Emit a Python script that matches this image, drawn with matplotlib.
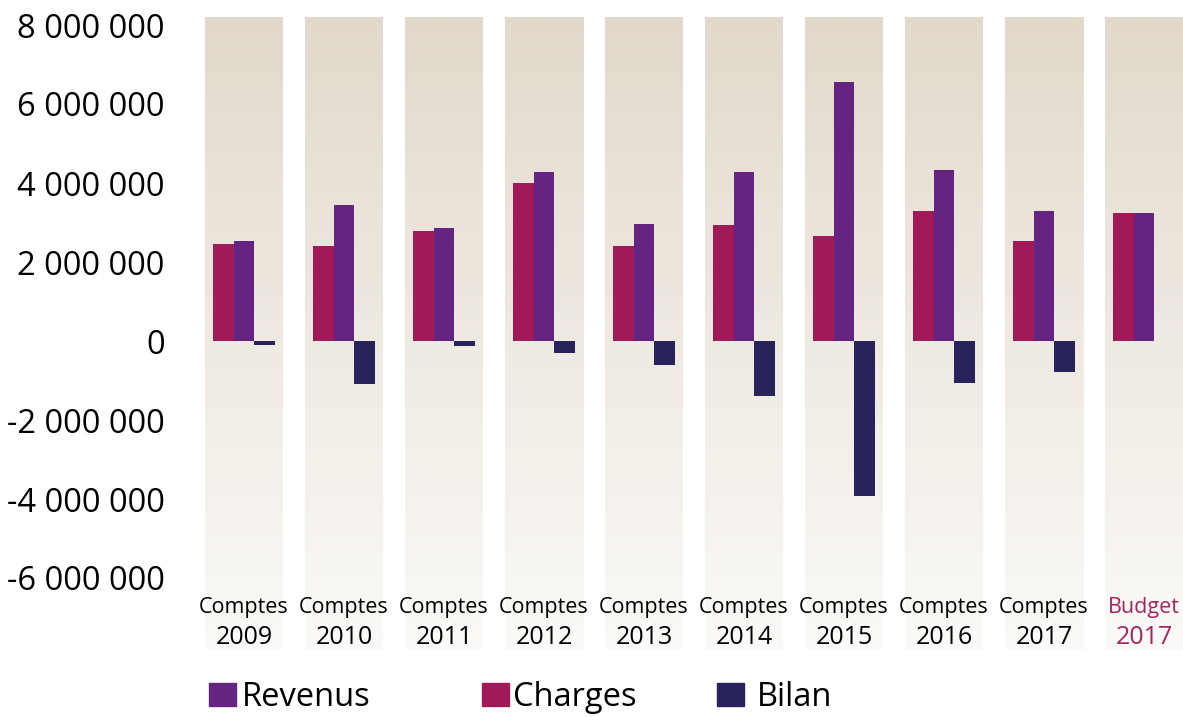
import numpy as np
import matplotlib.pyplot as plt
from matplotlib.colors import LinearSegmentedColormap
from matplotlib.patches import Rectangle
from matplotlib.ticker import FuncFormatter

plt.rcParams['font.family'] = ['Open Sans', 'DejaVu Sans']

kinds = ["Comptes"] * 9 + ["Budget"]
years = ["2009", "2010", "2011", "2012", "2013", "2014", "2015", "2016", "2017", "2017"]
charges = [2460000, 2410000, 2780000, 4000000, 2410000, 2940000, 2660000, 3290000, 2530000, 3240000]
revenus = [2530000, 3440000, 2860000, 4280000, 2960000, 4280000, 6560000, 4330000, 3290000, 3240000]
bilan = [-100000, -1090000, -130000, -300000, -610000, -1390000, -3920000, -1060000, -780000, np.nan]

c_rev = '#652382'
c_cha = '#A01A5A'
c_bil = '#28235A'

W, H = 1183, 717
fig = plt.figure(figsize=(W / 100, H / 100), dpi=100)
ax = fig.add_axes([205 / W, (H - 650) / H, (1183 - 205) / W, (650 - 17) / H])

# pixel geometry of the value axis
zero_px, ppm = 341, 39.5
ymax = (zero_px - 17) / ppm * 1e6
ymin = -(650 - zero_px) / ppm * 1e6

# gradient background columns
grad = np.linspace(0, 1, 256).reshape(-1, 1)
cmap = LinearSegmentedColormap.from_list('bg', ['#E2D9CB', '#FBFAF8'])
x = np.arange(len(years))
for i in x:
    ax.imshow(grad, cmap=cmap, extent=[i - 0.39, i + 0.39, ymin, ymax],
              aspect='auto', origin='upper', zorder=0)

bw = 0.207
ax.bar(x - bw, charges, bw, color=c_cha, zorder=2)
ax.bar(x, revenus, bw, color=c_rev, zorder=2)
ax.bar(x + bw, bilan, bw, color=c_bil, zorder=2)

ax.set_xlim(-0.39, 9.39)
ax.set_ylim(ymin, ymax)
ax.set_yticks(np.arange(-6e6, 8e6 + 1, 2e6))
ax.yaxis.set_major_formatter(FuncFormatter(lambda v, p: f"{int(round(v)):,}".replace(",", " ")))
ax.tick_params(axis='y', length=0, pad=29, labelsize=23.5)
ax.set_xticks([])
for s in ax.spines.values():
    s.set_visible(False)

for i, (k, y) in enumerate(zip(kinds, years)):
    col = '#A3265F' if k == "Budget" else 'black'
    ax.annotate(k, (i, H - 608), xycoords=('data', 'figure pixels'),
                ha='center', va='center', fontsize=15.5, color=col)
    ax.annotate(y, (i, H - 638), xycoords=('data', 'figure pixels'),
                ha='center', va='center', fontsize=18, color=col)

# legend
base = 706
for label, col, sx, tx in [("Revenus", c_rev, 209, 242),
                           ("Charges", c_cha, 482, 513),
                           ("Bilan", c_bil, 717, 757)]:
    fig.add_artist(Rectangle((sx / W, (H - base) / H), 27 / W, 23 / H,
                             transform=fig.transFigure, color=col))
    fig.text(tx / W, (H - base) / H, label, fontsize=23.5, va='baseline', ha='left')

fig.savefig('out.png', dpi=100)
